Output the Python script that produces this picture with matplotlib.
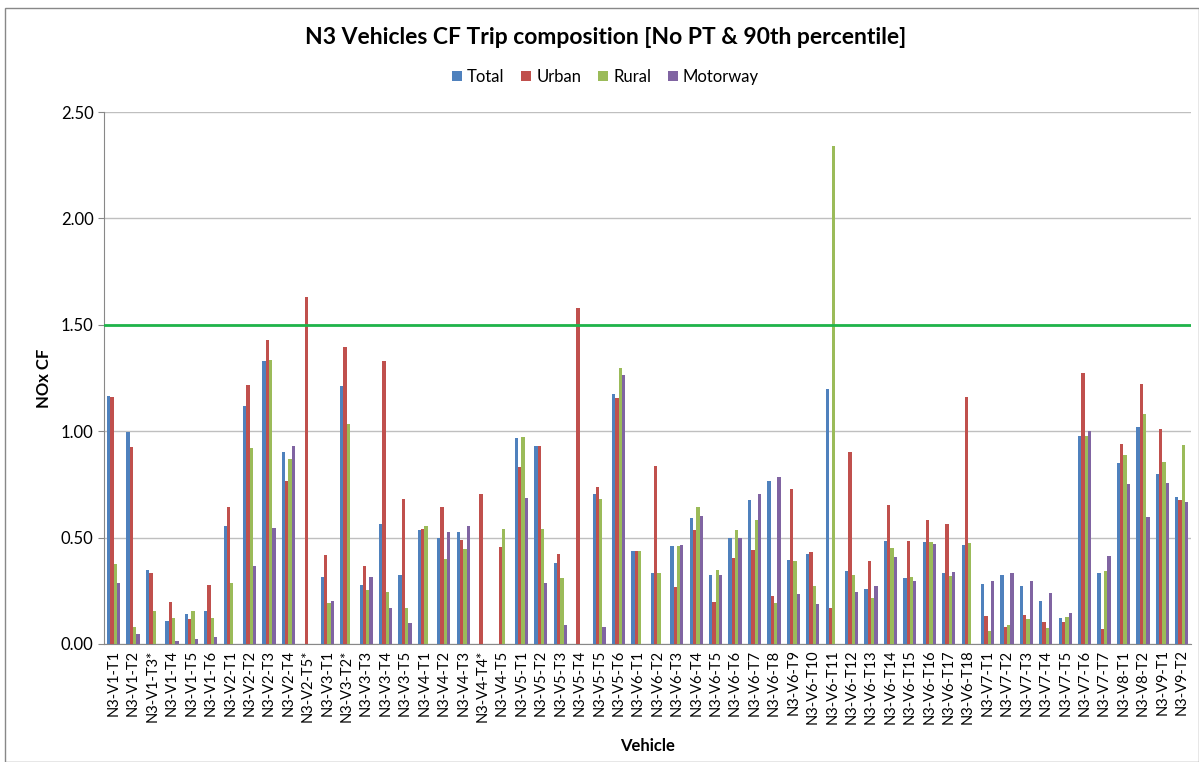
import numpy as np
import matplotlib
matplotlib.use("Agg")
import matplotlib.pyplot as plt
from matplotlib.patches import Rectangle

plt.rcParams['font.family'] = ['Lato', 'DejaVu Sans']

# trip labels on x axis
trips = ['N3-V1-T1', 'N3-V1-T2', 'N3-V1-T3*', 'N3-V1-T4', 'N3-V1-T5', 'N3-V1-T6',
         'N3-V2-T1', 'N3-V2-T2', 'N3-V2-T3', 'N3-V2-T4', 'N3-V2-T5*',
         'N3-V3-T1', 'N3-V3-T2*', 'N3-V3-T3', 'N3-V3-T4', 'N3-V3-T5',
         'N3-V4-T1', 'N3-V4-T2', 'N3-V4-T3', 'N3-V4-T4*', 'N3-V4-T5',
         'N3-V5-T1', 'N3-V5-T2', 'N3-V5-T3', 'N3-V5-T4', 'N3-V5-T5', 'N3-V5-T6',
         'N3-V6-T1', 'N3-V6-T2', 'N3-V6-T3', 'N3-V6-T4', 'N3-V6-T5', 'N3-V6-T6',
         'N3-V6-T7', 'N3-V6-T8', 'N3-V6-T9', 'N3-V6-T10', 'N3-V6-T11', 'N3-V6-T12',
         'N3-V6-T13', 'N3-V6-T14', 'N3-V6-T15', 'N3-V6-T16', 'N3-V6-T17', 'N3-V6-T18',
         'N3-V7-T1', 'N3-V7-T2', 'N3-V7-T3', 'N3-V7-T4', 'N3-V7-T5', 'N3-V7-T6', 'N3-V7-T7',
         'N3-V8-T1', 'N3-V8-T2', 'N3-V9-T1', 'N3-V9-T2']

total = [1.167, 0.995, 0.347, 0.109, 0.140, 0.155,
         0.556, 1.116, 1.330, 0.903, 0.0,
         0.316, 1.211, 0.275, 0.564, 0.322,
         0.534, 0.500, 0.528, 0.0, 0.0,
         0.966, 0.930, 0.380, 0.0, 0.703, 1.175,
         0.438, 0.334, 0.458, 0.590, 0.325, 0.498,
         0.678, 0.767, 0.394, 0.423, 1.198, 0.341,
         0.258, 0.483, 0.309, 0.477, 0.334, 0.467,
         0.281, 0.325, 0.272, 0.200, 0.122, 0.977, 0.331,
         0.850, 1.019, 0.798, 0.690]

urban = [1.159, 0.925, 0.334, 0.198, 0.117, 0.275,
         0.645, 1.217, 1.427, 0.767, 1.631,
         0.420, 1.395, 0.364, 1.330, 0.681,
         0.538, 0.645, 0.489, 0.703, 0.456,
         0.830, 0.931, 0.423, 1.580, 0.738, 1.158,
         0.438, 0.836, 0.267, 0.534, 0.198, 0.406,
         0.439, 0.223, 0.728, 0.430, 0.169, 0.903,
         0.390, 0.652, 0.483, 0.580, 0.564, 1.159,
         0.131, 0.081, 0.134, 0.103, 0.103, 1.272, 0.069,
         0.940, 1.220, 1.008, 0.675]

rural = [0.375, 0.078, 0.155, 0.122, 0.156, 0.122,
         0.284, 0.919, 1.336, 0.867, 0.0,
         0.192, 1.033, 0.255, 0.245, 0.167,
         0.556, 0.400, 0.447, 0.0, 0.542,
         0.973, 0.539, 0.309, 0.0, 0.681, 1.295,
         0.436, 0.334, 0.458, 0.642, 0.347, 0.534,
         0.583, 0.194, 0.390, 0.272, 2.339, 0.325,
         0.217, 0.452, 0.313, 0.477, 0.319, 0.473,
         0.059, 0.089, 0.119, 0.073, 0.125, 0.977, 0.341,
         0.888, 1.081, 0.853, 0.936]

motorway = [0.288, 0.045, 0.0, 0.014, 0.023, 0.033,
            0.0, 0.367, 0.545, 0.928, 0.0,
            0.203, 0.0, 0.313, 0.167, 0.097,
            0.0, 0.528, 0.553, 0.0, 0.0,
            0.688, 0.284, 0.090, 0.0, 0.080, 1.264,
            0.0, 0.0, 0.464, 0.600, 0.322, 0.498,
            0.703, 0.786, 0.236, 0.186, 0.0, 0.244,
            0.272, 0.408, 0.294, 0.470, 0.338, 0.0,
            0.294, 0.331, 0.297, 0.239, 0.147, 1.000, 0.413,
            0.752, 0.595, 0.755, 0.669]

limit = 1.5

series = [('Total', total, '#4F81BD'), ('Urban', urban, '#C0504D'),
          ('Rural', rural, '#9BBB59'), ('Motorway', motorway, '#8064A2')]

fig = plt.figure(figsize=(11.99, 7.62), dpi=100)
ax = fig.add_axes([0.0867, 0.155, 0.907, 0.698])

x = np.arange(len(trips))
w = 0.17
for i, (name, vals, col) in enumerate(series):
    ax.bar(x + (i - 1.5) * w, vals, w, color=col, label=name, zorder=3)

ax.axhline(limit, color='#1FB44A', lw=2, zorder=4)

ax.set_xlim(-0.5, len(trips) - 0.5)
ax.set_ylim(0, 2.5)
ax.set_yticks(np.arange(0, 2.51, 0.5))
ax.set_yticklabels(['%.2f' % v for v in np.arange(0, 2.51, 0.5)], fontsize=12)
ax.set_xticks(x)
ax.set_xticklabels(trips, rotation=90, fontsize=10.5)
ax.tick_params(axis='x', length=0, pad=4)
ax.tick_params(axis='y', length=4, color='#888888')
ax.grid(axis='y', color='#BFBFBF', lw=1, zorder=0)
for s in ['top', 'right']:
    ax.spines[s].set_visible(False)
ax.spines['left'].set_color('#888888')
ax.spines['bottom'].set_color('#888888')

ax.set_ylabel('NOx CF', fontsize=12, fontweight='bold', labelpad=6)
ax.set_xlabel('Vehicle', fontsize=12, fontweight='bold', labelpad=10)
fig.text(0.505, 0.951, 'N3 Vehicles CF Trip composition [No PT & 90th percentile]',
         ha='center', va='center', fontsize=16.5, fontweight='bold')
fig.legend(loc='center', bbox_to_anchor=(0.505, 0.899), ncol=4, frameon=False,
           fontsize=12, handlelength=0.6, handleheight=0.6, handletextpad=0.3,
           columnspacing=1.0)

fig.patches.append(Rectangle((0.004, 0.0), 0.996, 0.99, transform=fig.transFigure,
                             fill=False, edgecolor='#888888', lw=1))

fig.savefig('out.png', dpi=100)
